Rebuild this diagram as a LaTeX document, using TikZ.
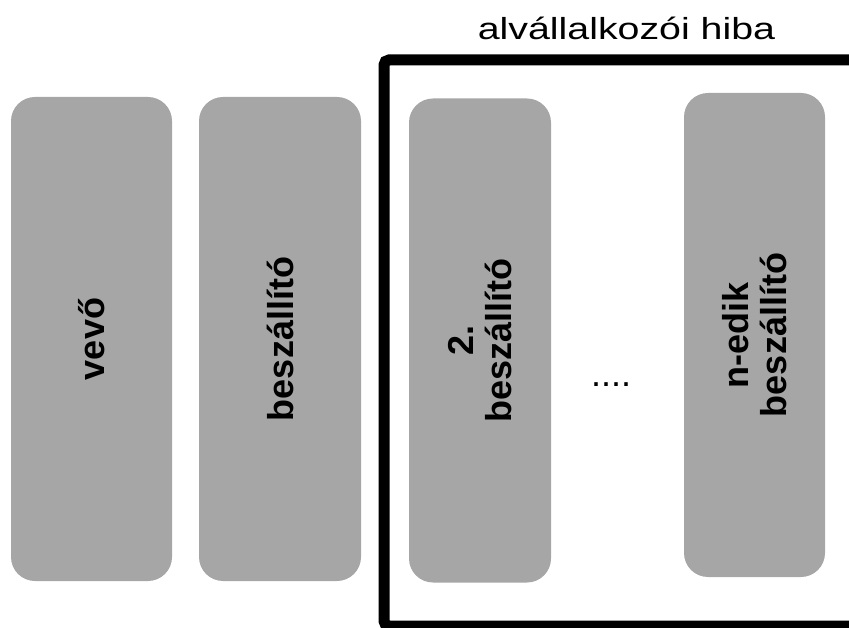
\documentclass[tikz,border=0pt]{standalone}
\usepackage{fontspec}
\setmainfont{Liberation Sans}
\usetikzlibrary{positioning}
\definecolor{boxgray}{HTML}{A6A6A6}
\tikzset{
actor/.style={
  rotate=90,
  rounded corners=24pt,
  fill=boxgray,
  draw=none,
  inner sep=0pt,
  align=center,
  minimum width=484pt,
  font=\fontsize{36}{38}\selectfont\bfseries
  }
}
\tikzset{
frame/.style={
  draw=black,
  line width=11pt,
  rounded corners=5pt
  }
}

\begin{document}
\begin{tikzpicture}[x=1pt, y=-1pt]
	\useasboundingbox (0,0) rectangle (849,628);
	%boxes
	\node (vevo) at (91.5,339) [actor, minimum height=161pt] {vevő};
	\node (besz) at (280,339) [actor, minimum height=162pt] {beszállító};
	\node (besz2) at (480,340.5) [actor, minimum height=142pt] {2.\\beszállító};
	\node (dots) at (611,385) [font=\fontsize{36}{38}\selectfont] {....};
	\node (beszn) at (754.5,335) [actor, minimum height=141pt] {n-edik\\beszállító};

	%frame
	\draw[frame] (860,60) -- (384,60) -- (384,626) -- (860,626);
	\node (title) at (626.5,40) [anchor=base, inner sep=0pt, font=\fontsize{30.5}{34}\selectfont] {\scalebox{1.29}[1]{alvállalkozói hiba}};
\end{tikzpicture}
\end{document}
